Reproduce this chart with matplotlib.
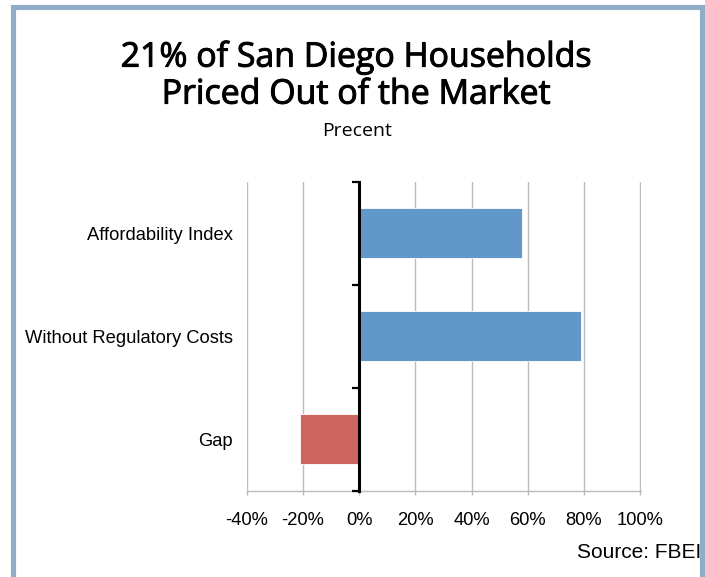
import matplotlib
matplotlib.use("Agg")
import matplotlib.pyplot as plt
import matplotlib.patheffects as pe
from matplotlib.patches import Rectangle
from matplotlib.ticker import FuncFormatter

# values
categories = ["Affordability Index", "Without Regulatory Costs", "Gap"]
values = [58, 79, -21]
bar_colors = ["#6298c9", "#6298c9", "#cd665e"]
x_ticks = [-40, -20, 0, 20, 40, 60, 80, 100]

TITLE_1 = "21% of San Diego Households"
TITLE_2 = "Priced Out of the Market"
SUBTITLE = "Precent"
SOURCE = "Source: FBEI"

plt.rcParams["font.family"] = ["Liberation Sans", "DejaVu Sans"]
TITLE_FONT = ["Open Sans", "DejaVu Sans"]

fig = plt.figure(figsize=(7.05, 5.77), dpi=100)
ax = fig.add_axes([0.350, 0.1496, 0.5588, 0.5355])

ypos = list(range(len(categories)))
ax.barh(ypos, values, height=0.49, color=bar_colors, edgecolor="white",
        linewidth=0.6, zorder=3)
ax.set_ylim(len(categories) - 0.5, -0.5)
ax.set_xlim(-40, 100.2)

ax.set_xticks(x_ticks)
ax.xaxis.set_major_formatter(FuncFormatter(lambda v, p: f"{v:.0f}%"))
ax.grid(axis="x", color="#bcbcbc", linewidth=1.0, zorder=0)
ax.set_axisbelow(True)
ax.tick_params(axis="x", length=3, color="#bcbcbc", width=1.0, pad=12,
               labelsize=13.2)

ax.set_yticks(ypos)
ax.set_yticklabels(categories)
ax.tick_params(axis="y", length=0, pad=10, labelsize=13.2)

for s in ["top", "right", "left"]:
    ax.spines[s].set_visible(False)
ax.spines["bottom"].set_color("#bcbcbc")
ax.spines["bottom"].set_linewidth(1.0)

# zero axis with category boundary ticks
sec = ax.secondary_yaxis(40 / 140.2)
sec.set_yticks([y - 0.5 for y in ypos] + [ypos[-1] + 0.5])
sec.set_yticklabels([])
sec.tick_params(length=5, width=1.6, color="black", direction="out")
sec.spines["left"].set_color("black")
sec.spines["left"].set_linewidth(2.2)
sec.set_zorder(5)

# slightly heavier title strokes (reference uses a medium weight)
thick = [pe.withStroke(linewidth=0.7, foreground="black")]
fig.text(0.5045, 0.901, TITLE_1, ha="center", va="center", fontsize=24.4,
         family=TITLE_FONT, path_effects=thick)
fig.text(0.5045, 0.836, TITLE_2, ha="center", va="center", fontsize=24.4,
         family=TITLE_FONT, path_effects=thick)
fig.text(0.506, 0.773, SUBTITLE, ha="center", va="center", fontsize=14,
         family=TITLE_FONT)
fig.text(0.995, 0.042, SOURCE, ha="right", va="center", fontsize=15)

# frame around the graphic
fig.patches.append(Rectangle((12.5 / 705, -0.05), 689.5 / 705, 1.05 - 7.5 / 577,
                             transform=fig.transFigure, fill=False,
                             edgecolor="#8fadc6", linewidth=3.7))

fig.savefig("out.png", dpi=100)
